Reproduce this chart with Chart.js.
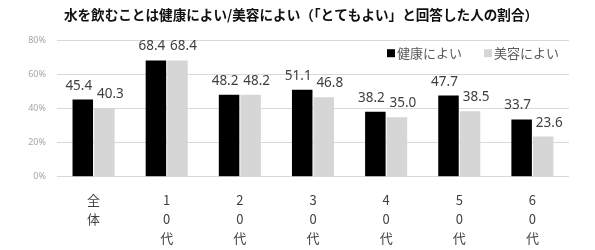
<!DOCTYPE html>
<html>
<head>
<meta charset="utf-8">
<script src="https://cdn.jsdelivr.net/npm/chart.js@4"></script>
<style>
html,body{margin:0;padding:0;background:#fff;}
#wrap{width:595px;height:250px;position:relative;}
</style>
</head>
<body>
<div id="wrap"><canvas id="c" width="595" height="250"></canvas></div>
<script>
const titleText = "水を飲むことは健康によい/美容によい（「とてもよい」と回答した人の割合）";
const categories = [["全","体"],["1","0","代"],["2","0","代"],["3","0","代"],["4","0","代"],["5","0","代"],["6","0","代"]];
const seriesNames = ["健康によい","美容によい"];
const healthValues = [45.4, 68.4, 48.2, 51.1, 38.2, 47.7, 33.7];
const beautyValues = [40.3, 68.4, 48.2, 46.8, 35.0, 38.5, 23.6];
const yTicks = [0, 20, 40, 60, 80];

const JP = '"Noto Sans CJK JP", "Noto Sans", sans-serif';
const labelOffsets = [-4, 6];

const valueLabels = {
  id: 'valueLabels',
  afterDatasetsDraw(chart) {
    const ctx = chart.ctx;
    ctx.save();
    ctx.font = '13.5px "Noto Sans", sans-serif';
    ctx.fillStyle = '#404040';
    ctx.textAlign = 'center';
    ctx.textBaseline = 'alphabetic';
    chart.data.datasets.forEach((ds, di) => {
      const meta = chart.getDatasetMeta(di);
      meta.data.forEach((el, i) => {
        ctx.fillText(ds.data[i].toFixed(1), el.x + labelOffsets[di], el.y - 10);
      });
    });
    ctx.restore();
  }
};

// chart title, centred over the picture
const topTitle = {
  id: 'topTitle',
  afterDraw(chart) {
    const ctx = chart.ctx;
    ctx.save();
    ctx.font = 'bold 13.6px ' + JP;
    ctx.fillStyle = '#111111';
    ctx.textAlign = 'center';
    ctx.textBaseline = 'middle';
    ctx.fillText(titleText, 301, 15);
    ctx.restore();
  }
};

// legend drawn inside the plot area, top-right, from the library's generated legend items
const insideLegend = {
  id: 'insideLegend',
  afterDraw(chart) {
    const items = Chart.defaults.plugins.legend.labels.generateLabels(chart);
    const ctx = chart.ctx;
    const area = chart.chartArea;
    ctx.save();
    ctx.font = '13px ' + JP;
    ctx.textBaseline = 'middle';
    ctx.textAlign = 'left';
    const y = area.top + 12.5;
    const box = 8, gapBoxText = 2, gapItems = 22;
    const widths = items.map(it => box + gapBoxText + ctx.measureText(it.text).width);
    let total = widths.reduce((a, b) => a + b, 0) + gapItems * (items.length - 1);
    let x = area.right - 10 - total;
    items.forEach((it, i) => {
      ctx.fillStyle = it.fillStyle;
      ctx.fillRect(x, y - box / 2, box, box);
      ctx.fillStyle = '#595959';
      ctx.fillText(it.text, x + box + gapBoxText, y);
      x += widths[i] + gapItems;
    });
    ctx.restore();
  }
};

new Chart(document.getElementById('c'), {
  type: 'bar',
  data: {
    labels: categories,
    datasets: [
      { label: seriesNames[0], data: healthValues, backgroundColor: '#000000', borderWidth: 0 },
      { label: seriesNames[1], data: beautyValues, backgroundColor: '#d6d6d6', borderWidth: 0 }
    ]
  },
  options: {
    responsive: false,
    animation: false,
    devicePixelRatio: 1,
    layout: { padding: { left: 0, right: 26, top: 40.7, bottom: 0 } },
    datasets: { bar: { categoryPercentage: 0.59, barPercentage: 0.95 } },
    plugins: {
      title: { display: false },
      legend: { display: false },
      tooltip: { enabled: false }
    },
    scales: {
      x: {
        grid: { display: false },
        border: { display: false },
        ticks: {
          color: '#404040',
          font: { family: JP, size: 13, lineHeight: 1.46 },
          padding: 6,
          maxRotation: 0,
          autoSkip: false
        },
        afterFit(scale) { scale.height = 73.3; }
      },
      y: {
        min: 0,
        max: 80,
        afterBuildTicks(scale) { scale.ticks = yTicks.map(v => ({ value: v })); },
        grid: { color: '#d9d9d9', lineWidth: 1, drawTicks: false },
        border: { display: false },
        ticks: {
          color: '#a6a6a6',
          font: { family: '"Noto Sans", sans-serif', size: 9 },
          padding: 11,
          callback: v => v + '%'
        },
        afterFit(scale) { scale.width = 57; }
      }
    }
  },
  plugins: [valueLabels, insideLegend, topTitle]
});
</script>
</body>
</html>
